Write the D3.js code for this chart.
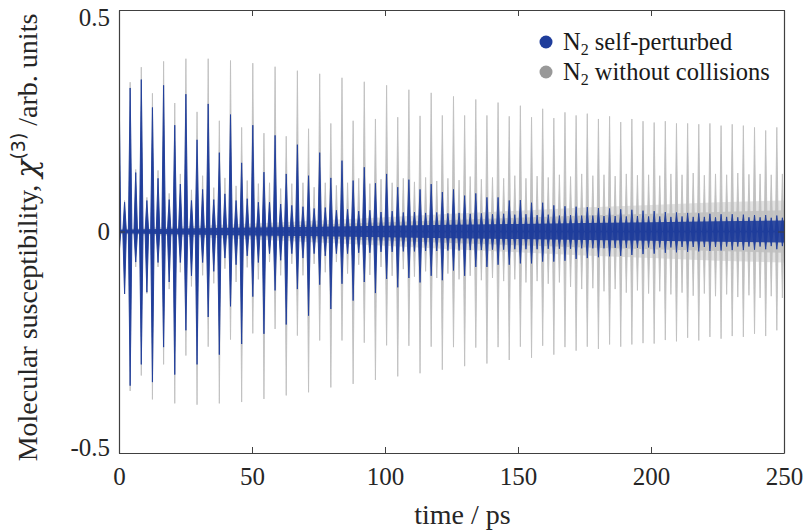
<!DOCTYPE html>
<html>
<head>
	<title>chi3 revivals</title>
	<script src="https://cdn.jsdelivr.net/npm/d3@7"></script>
	<style>
		body { margin: 0; background: #fff; }
		svg { display: block; font-family: 'Liberation Serif', 'Times New Roman', serif; }
		.axis path, .axis line { stroke: #404040; }
		.axis text { font-family: 'Liberation Serif', 'Times New Roman', serif; font-size: 25px; fill: #262626; }
		.label { font-size: 28px; fill: #262626; }
		.legend text { font-size: 24.5px; fill: #1a1a1a; }
	</style>
</head>
<body>
	<div id="chart"></div>
<script>

	// Half revivals (every T/2 of N2) : time in ps, peak up and peak down
	const halfTimes = [0, 4.19, 8.38, 12.57, 16.77, 20.96, 25.15, 29.34, 33.53, 37.72,
		41.92, 46.11, 50.30, 54.49, 58.68, 62.87, 67.06, 71.26, 75.45, 79.64,
		83.83, 88.02, 92.21, 96.40, 100.60, 104.79, 108.98, 113.17, 117.36, 121.55,
		125.75, 129.94, 134.13, 138.32, 142.51, 146.70, 150.89, 155.09, 159.28, 163.47,
		167.66, 171.85, 176.04, 180.23, 184.43, 188.62, 192.81, 197.00, 201.19, 205.38,
		209.58, 213.77, 217.96, 222.15, 226.34, 230.53, 234.72, 238.92, 243.11, 247.30];

	const grayHalfTop = [0.35, 0.337, 0.371, 0.312, 0.384, 0.29, 0.39, 0.27, 0.39, 0.25,
		0.386, 0.235, 0.38, 0.222, 0.372, 0.215, 0.363, 0.232, 0.356, 0.244,
		0.347, 0.25, 0.338, 0.254, 0.33, 0.258, 0.32, 0.261, 0.313, 0.262,
		0.305, 0.262, 0.298, 0.262, 0.291, 0.26, 0.284, 0.258, 0.277, 0.256,
		0.269, 0.262, 0.266, 0.254, 0.26, 0.247, 0.254, 0.249, 0.246, 0.249,
		0.244, 0.244, 0.242, 0.244, 0.239, 0.242, 0.239, 0.235, 0.228, 0.235];
	const grayHalfBot = [-0.055, -0.36, -0.325, -0.379, -0.30, -0.388, -0.28, -0.391, -0.26, -0.388,
		-0.244, -0.385, -0.23, -0.378, -0.22, -0.37, -0.235, -0.363, -0.246, -0.352,
		-0.246, -0.344, -0.251, -0.335, -0.257, -0.327, -0.258, -0.32, -0.26, -0.312,
		-0.261, -0.304, -0.262, -0.298, -0.261, -0.29, -0.26, -0.285, -0.258, -0.278,
		-0.261, -0.269, -0.26, -0.265, -0.255, -0.26, -0.255, -0.252, -0.253, -0.245,
		-0.248, -0.24, -0.246, -0.238, -0.242, -0.236, -0.238, -0.231, -0.236, -0.223];
	const blueHalfTop = [0.348, 0.324, 0.343, 0.28, 0.33, 0.24, 0.31, 0.207, 0.288, 0.178,
		0.264, 0.155, 0.24, 0.134, 0.217, 0.13, 0.196, 0.126, 0.178, 0.121,
		0.16, 0.115, 0.145, 0.109, 0.13, 0.10, 0.117, 0.095, 0.107, 0.089,
		0.095, 0.081, 0.086, 0.077, 0.077, 0.07, 0.071, 0.065, 0.065, 0.059,
		0.057, 0.056, 0.055, 0.053, 0.052, 0.05, 0.049, 0.047, 0.046, 0.044,
		0.043, 0.042, 0.041, 0.04, 0.039, 0.039, 0.038, 0.037, 0.037, 0.036];
	const blueHalfBot = [-0.054, -0.348, -0.30, -0.34, -0.261, -0.323, -0.223, -0.30, -0.193, -0.278,
		-0.169, -0.254, -0.147, -0.231, -0.133, -0.21, -0.13, -0.19, -0.12, -0.175,
		-0.118, -0.156, -0.114, -0.139, -0.107, -0.126, -0.105, -0.115, -0.1, -0.11,
		-0.088, -0.1, -0.08, -0.08, -0.075, -0.075, -0.072, -0.072, -0.068, -0.068,
		-0.066, -0.062, -0.06, -0.058, -0.056, -0.055, -0.053, -0.051, -0.05, -0.048,
		-0.047, -0.046, -0.045, -0.044, -0.043, -0.042, -0.042, -0.041, -0.04, -0.04];

	// Quarter revivals (odd multiples of T/4)
	const quarterTimes = [2.10, 6.29, 10.48, 14.67, 18.86, 23.05, 27.24, 31.44, 35.63, 39.82,
		44.01, 48.20, 52.39, 56.59, 60.78, 64.97, 69.16, 73.35, 77.54, 81.73,
		85.93, 90.12, 94.31, 98.50, 102.69, 106.88, 111.07, 115.27, 119.46, 123.65,
		127.84, 132.03, 136.22, 140.41, 144.61, 148.80, 152.99, 157.18, 161.37, 165.56,
		169.76, 173.95, 178.14, 182.33, 186.52, 190.71, 194.90, 199.10, 203.29, 207.48,
		211.67, 215.86, 220.05, 224.25, 228.44, 232.63, 236.82, 241.01, 245.20, 249.39];

	const grayQuarterTop = [0.07, 0.14, 0.077, 0.138, 0.086, 0.13, 0.094, 0.126, 0.099, 0.121,
		0.103, 0.115, 0.108, 0.11, 0.097, 0.108, 0.11, 0.10, 0.11, 0.104,
		0.11, 0.12, 0.108, 0.118, 0.11, 0.12, 0.112, 0.122, 0.114, 0.12,
		0.116, 0.124, 0.118, 0.122, 0.12, 0.126, 0.12, 0.125, 0.122, 0.128,
		0.124, 0.13, 0.126, 0.128, 0.125, 0.13, 0.127, 0.128, 0.126, 0.13,
		0.128, 0.132, 0.127, 0.13, 0.128, 0.132, 0.129, 0.13, 0.128, 0.13];
	const grayQuarterBot = [-0.141, -0.08, -0.14, -0.08, -0.13, -0.092, -0.124, -0.099, -0.117, -0.084,
		-0.114, -0.081, -0.108, -0.069, -0.099, -0.073, -0.099, -0.073, -0.092, -0.069,
		-0.095, -0.075, -0.098, -0.08, -0.1, -0.085, -0.102, -0.09, -0.105, -0.095,
		-0.108, -0.1, -0.11, -0.105, -0.112, -0.108, -0.115, -0.112, -0.118, -0.115,
		-0.125, -0.13, -0.128, -0.135, -0.13, -0.138, -0.133, -0.14, -0.135, -0.142,
		-0.138, -0.145, -0.14, -0.146, -0.142, -0.148, -0.144, -0.15, -0.146, -0.15];
	const blueQuarterTop = [0.066, 0.133, 0.07, 0.12, 0.072, 0.107, 0.07, 0.095, 0.072, 0.085,
		0.07, 0.074, 0.066, 0.066, 0.062, 0.059, 0.056, 0.052, 0.054, 0.048,
		0.05, 0.046, 0.048, 0.044, 0.046, 0.043, 0.044, 0.042, 0.043, 0.041,
		0.042, 0.04, 0.041, 0.039, 0.04, 0.038, 0.039, 0.037, 0.038, 0.036,
		0.037, 0.036, 0.036, 0.035, 0.035, 0.034, 0.035, 0.034, 0.034, 0.033,
		0.034, 0.033, 0.033, 0.032, 0.033, 0.032, 0.032, 0.032, 0.031, 0.031];
	const blueQuarterBot = [-0.141, -0.069, -0.137, -0.07, -0.114, -0.07, -0.10, -0.07, -0.09, -0.06,
		-0.075, -0.055, -0.07, -0.05, -0.065, -0.05, -0.06, -0.05, -0.055, -0.05,
		-0.05, -0.048, -0.048, -0.046, -0.046, -0.045, -0.045, -0.044, -0.044, -0.043,
		-0.043, -0.042, -0.042, -0.041, -0.041, -0.04, -0.04, -0.04, -0.039, -0.039,
		-0.039, -0.038, -0.038, -0.038, -0.037, -0.037, -0.037, -0.036, -0.036, -0.036,
		-0.035, -0.035, -0.035, -0.035, -0.034, -0.034, -0.034, -0.034, -0.033, -0.033];

	// Half-width of the dense background between revivals (outer haze and solid core)
	const bandTimes = [0, 25, 50, 75, 100, 125, 150, 175, 200, 225, 250];
	const grayHaze = [0.006, 0.012, 0.018, 0.025, 0.032, 0.04, 0.047, 0.054, 0.06, 0.066, 0.07];
	const grayBand = [0.004, 0.008, 0.012, 0.016, 0.021, 0.026, 0.031, 0.036, 0.04, 0.044, 0.048];
	const blueBand = [0.004, 0.007, 0.009, 0.011, 0.013, 0.015, 0.017, 0.019, 0.021, 0.023, 0.025];

	const xTicks = [0, 50, 100, 150, 200, 250];
	const yTicks = [-0.5, 0, 0.5];
	const seriesNames = ['self-perturbed', 'without collisions'];

	const blue = '#1f3d9b';
	const gray = '#c0c0c0';

	const margin = {top: 10, right: 22, bottom: 78, left: 119};
	const W = 806, H = 531;
	const width = W - margin.left - margin.right;
	const height = H - margin.top - margin.bottom;

	const root = d3.select('#chart').append('svg')
		.attr('width', W)
		.attr('height', H);
	const svg = root.append('g')
		.attr('transform', 'translate(' + margin.left + ',' + margin.top + ')');

	const x = d3.scaleLinear().domain([0, 250]).range([0, width]);
	const y = d3.scaleLinear().domain([-0.5, 0.5]).range([height, 0]);

	svg.append('clipPath').attr('id', 'clip')
		.append('rect').attr('width', width).attr('height', height);

	const plot = svg.append('g').attr('clip-path', 'url(#clip)');

	function bandArea(band) {
		return d3.area()
			.x(function (d, i) { return x(bandTimes[i]); })
			.y0(function (d) { return y(-d); })
			.y1(function (d) { return y(d); })(band);
	}

	// A revival: a thin diamond, wide at zero and sharp at the peaks.
	function spike(d, hw) {
		const cx = x(d.t), y0 = y(0);
		return 'M' + (cx - hw) + ',' + y0 + 'L' + cx + ',' + y(d.top) +
			'L' + (cx + hw) + ',' + y0 + 'L' + cx + ',' + y(d.bot) + 'Z';
	}

	function events(times, tops, bots) {
		return times.map(function (t, i) { return {t: t, top: tops[i], bot: bots[i]}; });
	}

	function drawBand(color, band, opacity) {
		plot.append('path')
			.attr('d', bandArea(band))
			.attr('fill', color)
			.attr('opacity', opacity);
	}

	function drawSpikes(color, list, hw) {
		plot.append('g').selectAll('path')
			.data(list)
			.enter().append('path')
				.attr('d', function (d) { return spike(d, hw); })
				.attr('fill', color)
				.attr('stroke', color)
				.attr('stroke-width', 0.9)
				.attr('stroke-linejoin', 'miter');
	}

	drawBand(gray, grayHaze, 0.45);
	drawBand(gray, grayBand, 0.85);
	drawSpikes(gray, events(halfTimes, grayHalfTop, grayHalfBot)
		.concat(events(quarterTimes, grayQuarterTop, grayQuarterBot)), 1.4);
	drawBand(blue, blueBand, 0.9);
	drawSpikes(blue, events(halfTimes, blueHalfTop, blueHalfBot)
		.concat(events(quarterTimes, blueQuarterTop, blueQuarterBot)), 1.8);

	// Zero line of the blue trace
	plot.append('line')
		.attr('x1', 0).attr('x2', width)
		.attr('y1', y(0)).attr('y2', y(0))
		.attr('stroke', blue).attr('stroke-width', 1.5);

	// Axes, ticks pointing inward on all four sides.
	const fmt = function (d) { return d === 0 ? '0' : String(d); };
	svg.append('g')
		.attr('class', 'axis')
		.attr('transform', 'translate(0,' + height + ')')
		.call(d3.axisBottom(x).tickValues(xTicks).tickSizeInner(-6).tickSizeOuter(0).tickPadding(14).tickFormat(fmt));
	svg.append('g')
		.attr('class', 'axis')
		.call(d3.axisTop(x).tickValues(xTicks).tickSizeInner(-6).tickSizeOuter(0).tickFormat(''));
	const yAxis = svg.append('g')
		.attr('class', 'axis')
		.call(d3.axisLeft(y).tickValues(yTicks).tickSizeInner(-6).tickSizeOuter(0).tickPadding(9).tickFormat(fmt));
	svg.append('g')
		.attr('class', 'axis')
		.attr('transform', 'translate(' + width + ',0)')
		.call(d3.axisRight(y).tickValues(yTicks).tickSizeInner(-6).tickSizeOuter(0).tickFormat(''));

	// Keep the end labels inside the picture, like the original.
	yAxis.selectAll('.tick text')
		.attr('dy', function (d) { return d === 0.5 ? '0.62em' : d === -0.5 ? '0.08em' : '0.32em'; });

	svg.selectAll('.axis .domain').attr('stroke-width', 1.2);

	// Axis labels
	svg.append('text')
		.attr('class', 'label')
		.attr('x', width / 2 + 11)
		.attr('y', height + 71)
		.attr('text-anchor', 'middle')
		.text('time / ps');

	const yl = svg.append('text')
		.attr('class', 'label')
		.attr('transform', 'translate(' + (-82) + ',' + (height / 2 + 6) + ') rotate(-90)')
		.attr('text-anchor', 'middle');
	yl.append('tspan').text('Molecular susceptibility, ');
	yl.append('tspan').attr('font-style', 'italic').attr('font-family', 'DejaVu Serif').attr('font-size', '30px').text('\u03c7');
	yl.append('tspan').attr('font-family', 'DejaVu Sans').attr('font-size', '19px').attr('dy', '-12').text('(3)');
	yl.append('tspan').attr('dy', '12').text(' /arb. units');

	// Legend
	const legend = svg.append('g').attr('class', 'legend')
		.attr('transform', 'translate(' + (width - 238) + ',32)');
	[blue, '#999999'].forEach(function (c, i) {
		const row = legend.append('g').attr('transform', 'translate(0,' + (i * 30) + ')');
		row.append('circle').attr('r', 6.5).attr('fill', c);
		const t = row.append('text').attr('x', 17).attr('y', 8);
		t.append('tspan').text('N');
		t.append('tspan').attr('font-size', '16px').attr('dy', 5).text('2');
		t.append('tspan').attr('dy', -5).text(' ' + seriesNames[i]);
	});

</script>
</body>
</html>
